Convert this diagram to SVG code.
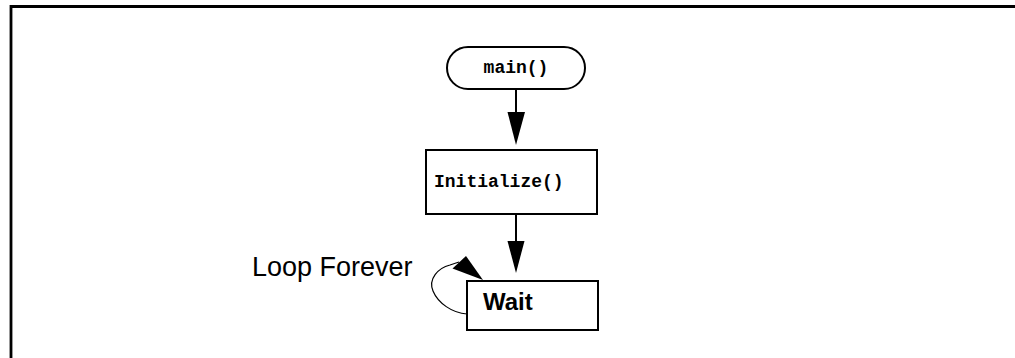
<svg xmlns="http://www.w3.org/2000/svg" width="1015" height="358" viewBox="0 0 1015 358">
<style>
.shape{fill:#fff;stroke:#000;stroke-width:2}
.mono{font-family:"Liberation Mono","Courier New",monospace;font-weight:bold;font-size:18px;fill:#000}
.sans{font-family:"Liberation Sans",Arial,sans-serif;fill:#000}
.conn{stroke:#000;stroke-width:2;fill:none}
.thin{stroke:#000;stroke-width:1.2;fill:none}
</style>
<g id="frame">
<path d="M11,358 L11,6.5 L1015,6.5" fill="none" stroke="#000" stroke-width="2.8"/>
</g>
<g id="main">
<rect class="shape" x="447" y="47" width="138" height="42" rx="21" ry="21"/>
<text class="mono" x="516" y="73" text-anchor="middle">main()</text>
</g>
<g id="initialize">
<rect class="shape" x="426" y="150" width="171" height="64"/>
<text class="mono" x="434" y="187">Initialize()</text>
</g>
<g id="wait">
<rect class="shape" x="467" y="281" width="131" height="49"/>
<text class="sans" x="483" y="310" font-size="24" font-weight="bold">Wait</text>
</g>
<g id="label">
<text class="sans" x="252" y="276" font-size="27">Loop Forever</text>
</g>
<g id="connectors">
<line class="conn" x1="516" y1="89" x2="516" y2="113"/>
<polygon points="507.5,112 525,112 516,145" fill="#000"/>
<line class="conn" x1="516" y1="214" x2="516" y2="242"/>
<polygon points="507.5,241 524.5,241 516,273" fill="#000"/>
<path class="thin" d="M467,314 C452,313 438,303 433,291 C428,279 438,268 450,265 L459,262"/>
<polygon points="452.5,268.5 466,256 483,280" fill="#000"/>
</g>
</svg>
